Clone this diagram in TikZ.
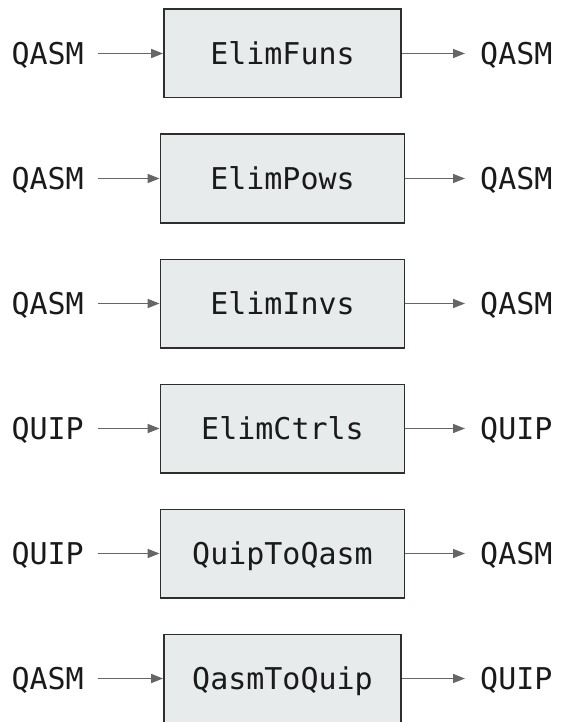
\documentclass[tikz,border=0pt]{standalone}
\usepackage{fontspec}
\setmonofont{DejaVu Sans Mono}
\usepackage{xcolor}
\usepackage{tikz}
\usetikzlibrary{arrows.meta, positioning}

\definecolor{boxfill}{HTML}{E8EBEC}
\definecolor{boxline}{HTML}{2E2E2E}
\definecolor{flowgray}{HTML}{666666}
\definecolor{txtcol}{HTML}{1A1A1A}

\begin{document}
\begin{tikzpicture}[
    x=1pt, y=-1pt,
    node distance=35pt,
    % --- node styles ---
    procbox/.style={
        draw=boxline, line width=1.8pt, fill=boxfill,
        minimum width=#1, minimum height=88.2pt, inner sep=0pt,
        font=\ttfamily\fontsize{30}{36}\selectfont, text=txtcol,
        text height=21.9pt, text depth=0pt
    },
    procbox/.default=244pt,
    fmtlbl/.style={
        font=\ttfamily\fontsize{30}{36}\selectfont, text=txtcol,
        text height=21.9pt, text depth=0pt, inner ysep=0pt
    },
    % --- arrow style ---
    flow/.style={-{Triangle[length=12pt, width=9pt]}, line width=1.6pt, color=flowgray},
]
\useasboundingbox (0,0) rectangle (560,722);

% ---- Passes (top to bottom) ----
\node[procbox=237pt] (funs) at (282.5,53.5) {ElimFuns};
\node[procbox, below=of funs]  (pows)  {ElimPows};
\node[procbox, below=of pows]  (invs)  {ElimInvs};
\node[procbox, below=of invs]  (ctrls) {ElimCtrls};
\node[procbox, below=of ctrls] (q2q)   {QuipToQasm};
\node[procbox=237pt, below=of q2q] (q2u) {QasmToQuip};

% ---- Input / output formats ----
\foreach \nd/\fin/\fout in {funs/QASM/QASM, pows/QASM/QASM, invs/QASM/QASM,
                            ctrls/QUIP/QUIP, q2q/QUIP/QASM, q2u/QASM/QUIP}{
    \node[fmtlbl, inner xsep=14pt, anchor=east] (\nd-in) at ([xshift=-62pt]\nd.west -| 160,0) {\fin};
    \node[fmtlbl, inner xsep=15pt, anchor=west] (\nd-out) at ([xshift=63pt]\nd.east -| 402,0) {\fout};
    \draw[flow] (\nd-in.east) -- (\nd.west);
    \draw[flow] (\nd.east) -- (\nd-out.west);
}

\end{tikzpicture}
\end{document}
